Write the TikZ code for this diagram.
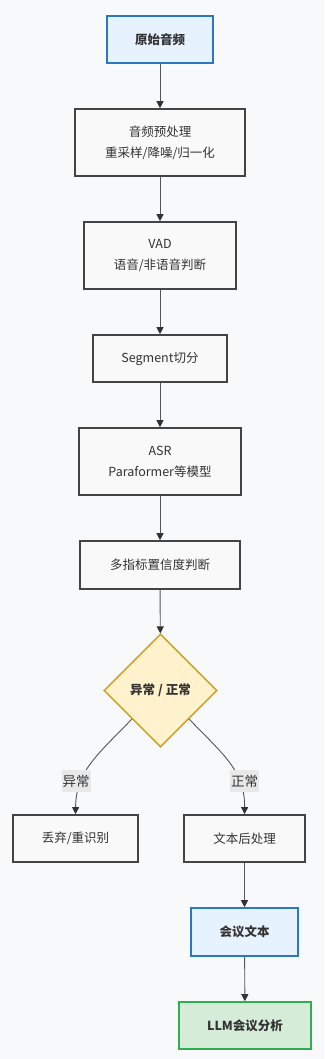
\documentclass[tikz,border=0pt]{standalone}
\usepackage{fontspec}
\setmainfont{Noto Sans CJK SC}
\usetikzlibrary{shapes.geometric,arrows.meta}
\definecolor{bgc}{HTML}{F8F9FB}
\definecolor{boxfill}{HTML}{F9F9F9}
\definecolor{boxline}{HTML}{444444}
\definecolor{txt}{HTML}{333333}
\definecolor{bluefill}{HTML}{E6F2FE}
\definecolor{blueline}{HTML}{2A78C2}
\definecolor{yelfill}{HTML}{FFF2CC}
\definecolor{yelline}{HTML}{D6A41E}
\definecolor{grnfill}{HTML}{D5ECD9}
\definecolor{grnline}{HTML}{33AE4F}
\definecolor{lblbg}{HTML}{E8E8E8}
\definecolor{edgec}{HTML}{555555}
\begin{document}
\begin{tikzpicture}[x=1pt,y=-1pt,
  every node/.style={font=\fontsize{12.5}{21}\selectfont, text=txt, align=center, inner sep=0pt},
  proc/.style={draw=boxline, fill=boxfill, line width=1.6pt, rectangle},
  bluebox/.style={draw=blueline, fill=bluefill, line width=1.6pt, rectangle, font=\fontsize{12.5}{21}\selectfont\bfseries},
  greenbox/.style={draw=grnline, fill=grnfill, line width=1.6pt, rectangle, font=\fontsize{12.5}{21}\selectfont\bfseries},
  decide/.style={diamond, draw=yelline, fill=yelfill, line width=1.6pt, minimum width=113pt, minimum height=113pt, font=\fontsize{12.5}{21}\selectfont\bfseries},
  elabel/.style={fill=lblbg, inner xsep=1pt, minimum height=22pt, font=\fontsize{13.5}{16}\selectfont},
  conn/.style={draw=edgec, line width=0.9pt, -{Triangle[length=7pt,width=7pt,color=txt]}}
]
\useasboundingbox[fill=bgc] (0,0) rectangle (324,1059);
\node[bluebox, minimum width=106pt, minimum height=47pt] (a) at (160,39.5) {原始音频};
\node[proc, minimum width=170pt, minimum height=67pt] (b) at (160,142.5) {音频预处理\\重采样/降噪/归一化};
\node[proc, minimum width=152pt, minimum height=67pt] (c) at (160,255.5) {VAD\\语音/非语音判断};
\node[proc, minimum width=134pt, minimum height=47pt] (d) at (160,358.5) {Segment切分};
\node[proc, minimum width=162pt, minimum height=67pt] (e) at (160,461.5) {ASR\\Paraformer等模型};
\node[proc, minimum width=160pt, minimum height=48pt] (f) at (160,565) {多指标置信度判断};
\node[decide] (g) at (160.5,690.5) {异常 / 正常};
\node[proc, minimum width=125pt, minimum height=47pt] (h) at (75.5,838.5) {丢弃/重识别};
\node[proc, minimum width=121pt, minimum height=47pt] (i) at (244.5,838.5) {文本后处理};
\node[bluebox, minimum width=107pt, minimum height=48pt] (j) at (244.5,932) {会议文本};
\node[greenbox, minimum width=132pt, minimum height=47pt] (k) at (245,1025.5) {LLM会议分析};

\draw[conn] (a) -- (b);
\draw[conn] (b) -- (c);
\draw[conn] (c) -- (d);
\draw[conn] (d) -- (e);
\draw[conn] (e) -- (f);
\draw[conn] (f) -- (g);
\draw[conn] (g.south west) .. controls (95,757) and (76,772) .. (h.north);
\draw[conn] (g.south east) .. controls (226,757) and (245,772) .. (i.north);
\draw[conn] (i) -- (j);
\draw[conn] (j) -- (k);
\node[elabel] (la) at (76,781) {异常};
\node[elabel] (lb) at (244.5,781) {正常};
\end{tikzpicture}
\end{document}
